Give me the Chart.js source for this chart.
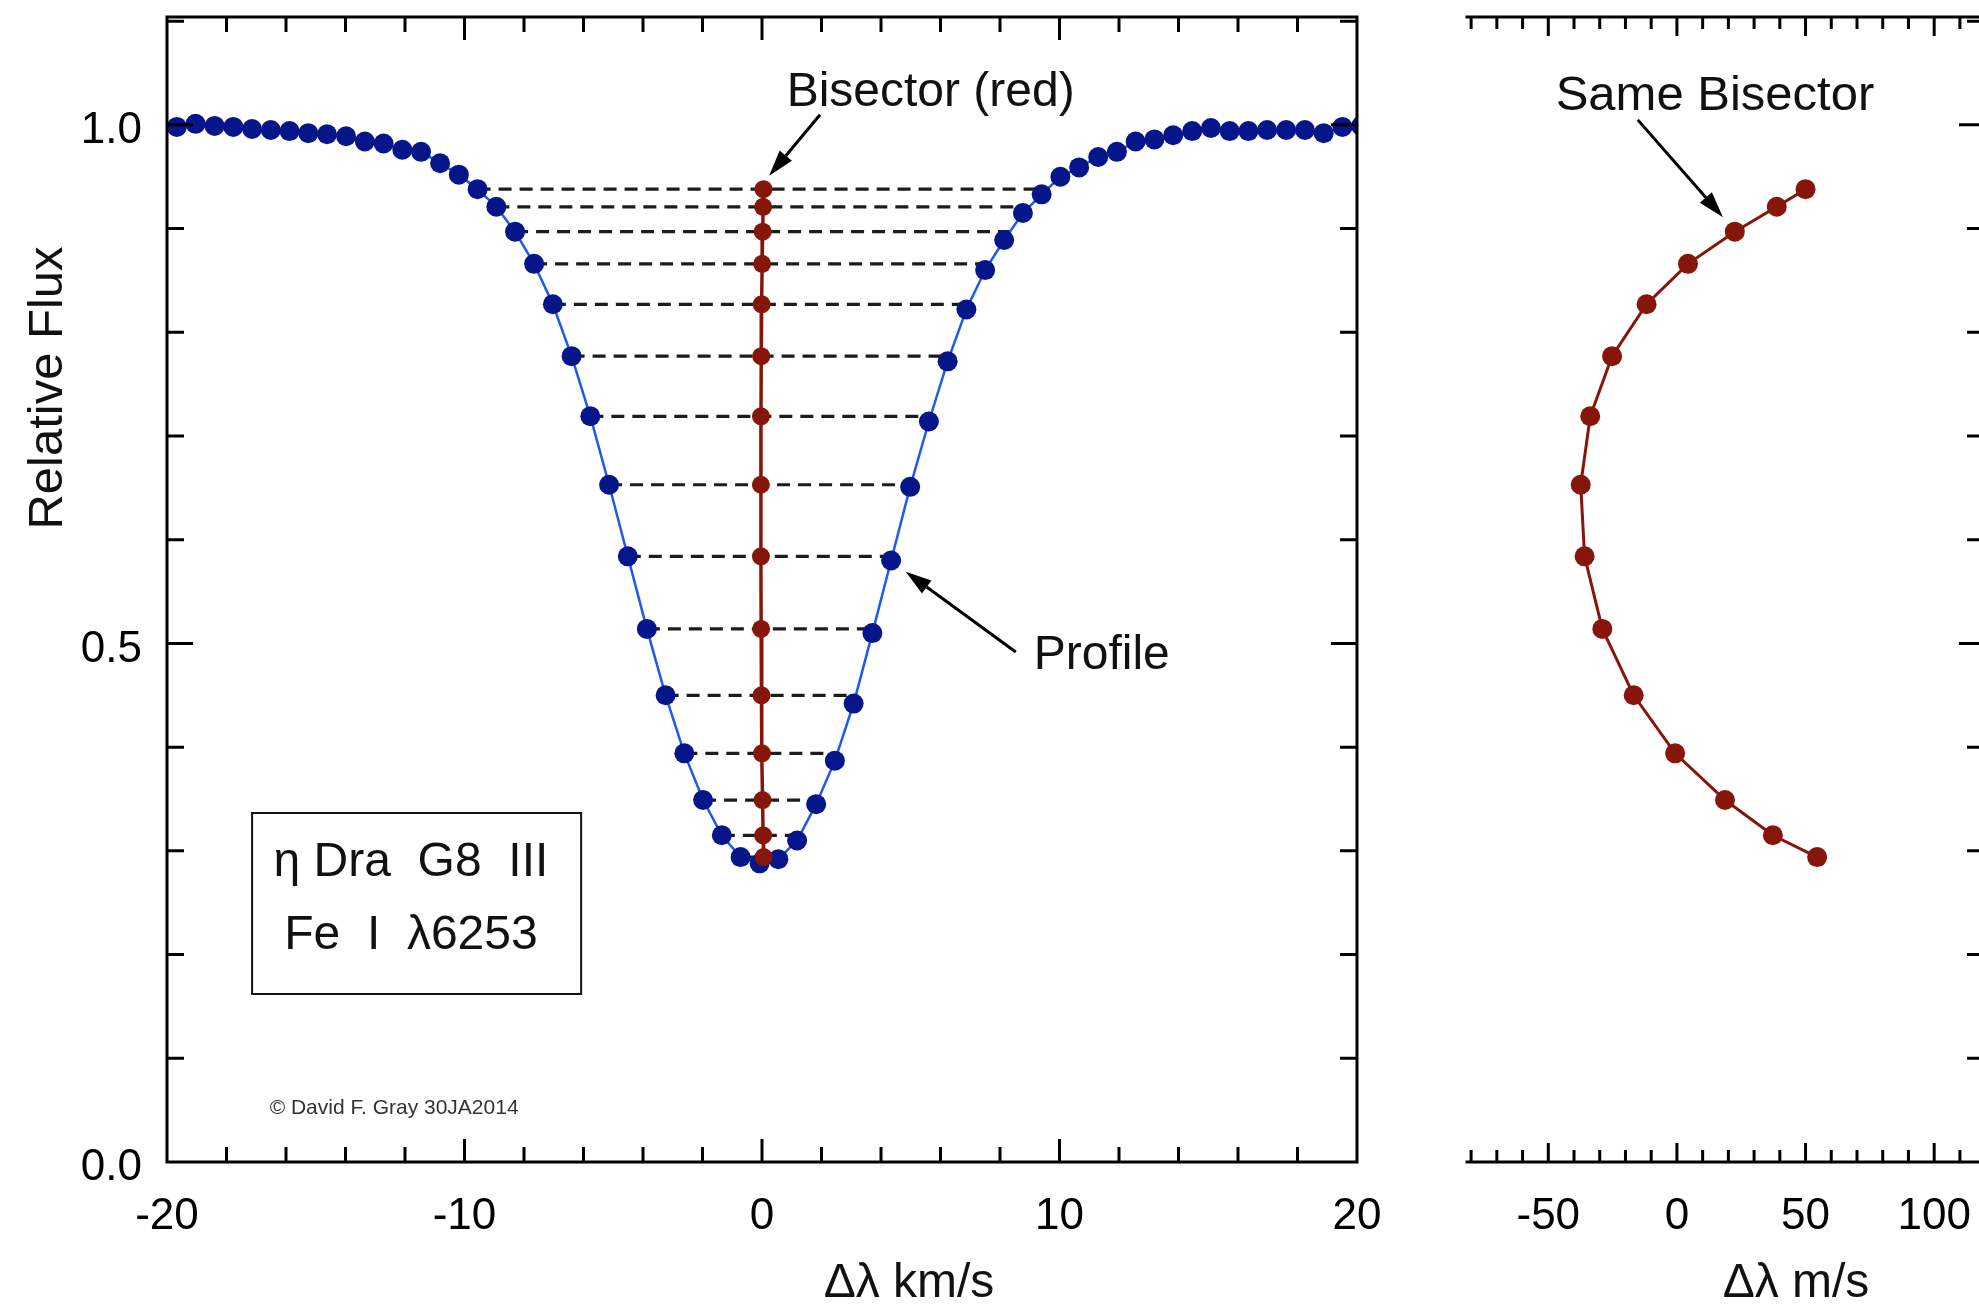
<!DOCTYPE html>
<html>
<head>
<meta charset="utf-8">
<script src="https://cdn.jsdelivr.net/npm/chart.js@4.4.1/dist/chart.umd.min.js"></script>
<style>
html,body{margin:0;padding:0;background:#fff;overflow:hidden;width:1979px;height:1312px;position:relative}
#w1{position:absolute;left:0;top:0;width:1430px;height:1312px}
#w2{position:absolute;left:1400px;top:0;width:600px;height:1312px}
canvas{display:block}
</style>
</head>
<body>
<div id="w1"><canvas id="c1" width="1430" height="1312"></canvas></div>
<div id="w2"><canvas id="c2" width="600" height="1312"></canvas></div>
<script>
// ---------- DATA ----------
// Line profile: Doppler velocity (km/s) and relative flux
const profileX = [-19.67, -19.04, -18.40, -17.77, -17.14, -16.51, -15.88, -15.25, -14.62, -13.98,
  -13.35, -12.72, -12.09, -11.46, -10.82, -10.19, -9.56, -8.93, -8.30, -7.66,
  -7.03, -6.40, -5.77, -5.14, -4.51, -3.87, -3.24, -2.61, -1.98, -1.35,
  -0.72, -0.08, 0.55, 1.18, 1.82, 2.45, 3.08, 3.71, 4.34, 4.98,
  5.61, 6.24, 6.87, 7.50, 8.14, 8.77, 9.40, 10.03, 10.66, 11.30,
  11.93, 12.56, 13.19, 13.82, 14.46, 15.09, 15.72, 16.35, 16.98, 17.62,
  18.25, 18.88, 19.51, 20.14];
const profileFlux = [0.998, 1.001, 0.999, 0.998, 0.996, 0.995, 0.994, 0.992, 0.991, 0.989,
  0.984, 0.982, 0.976, 0.974, 0.963, 0.952, 0.938, 0.921, 0.897, 0.866,
  0.827, 0.777, 0.719, 0.653, 0.584, 0.514, 0.450, 0.394, 0.349, 0.315,
  0.294, 0.288, 0.292, 0.310, 0.345, 0.387, 0.442, 0.510, 0.580, 0.651,
  0.714, 0.772, 0.822, 0.860, 0.889, 0.915, 0.933, 0.950, 0.959, 0.969,
  0.974, 0.984, 0.986, 0.990, 0.994, 0.997, 0.994, 0.994, 0.995, 0.995,
  0.995, 0.992, 0.998, 0.999];
// Bisector: flux levels and bisector velocity (m/s)
const bisectorFlux = [0.938, 0.921, 0.897, 0.866, 0.827, 0.777, 0.719, 0.653, 0.584, 0.514, 0.450, 0.394, 0.349, 0.315, 0.294];
const bisectorVel  = [50.0, 38.8, 22.5, 4.3, -11.8, -25.2, -33.7, -37.4, -35.9, -29.0, -16.8, -0.7, 18.7, 37.3, 54.5];
// Blue-wing profile point (km/s) at each bisector level (left end of dashed chord)
const levelLeftX = [-9.56, -8.93, -8.30, -7.66, -7.03, -6.40, -5.77, -5.14, -4.51, -3.87, -3.24, -2.61, -1.98, -1.35, -0.72];
// Tick labels
const xTicksKms = [-20, -10, 0, 10, 20];
const yTicksFlux = [0.0, 0.5, 1.0];
const xTicksMs = [-50, 0, 50, 100];

// ---------- STYLE ----------
const FONT = "'Liberation Sans', Arial, Helvetica, sans-serif";
const NAVY = 'rgb(6,22,138)';
const BLUE = 'rgb(30,90,235)';
const RED = 'rgb(135,22,10)';

function makeFrame(cfg) {
  return {
    id: 'frame',
    afterDatasetsDraw(chart) {
      const {ctx, chartArea: a, scales} = chart;
      const x = scales.x, y = scales.y;
      ctx.save();
      ctx.strokeStyle = '#000';
      ctx.lineWidth = 3;
      ctx.lineCap = 'square';
      ctx.beginPath();
      if (cfg.frame.includes('top')) { ctx.moveTo(a.left, a.top); ctx.lineTo(a.right, a.top); }
      if (cfg.frame.includes('bottom')) { ctx.moveTo(a.left, a.bottom); ctx.lineTo(a.right, a.bottom); }
      if (cfg.frame.includes('left')) { ctx.moveTo(a.left, a.top); ctx.lineTo(a.left, a.bottom); }
      if (cfg.frame.includes('right')) { ctx.moveTo(a.right, a.top); ctx.lineTo(a.right, a.bottom); }
      ctx.stroke();
      ctx.lineCap = 'butt';
      ctx.beginPath();
      const isMajor = (v, m) => Math.abs(v / m - Math.round(v / m)) < 1e-6;
      for (let k = Math.ceil(x.min / cfg.xStep - 1e-9); k * cfg.xStep <= x.max + 1e-9; k++) {
        const v = k * cfg.xStep;
        if (Math.abs(v - x.min) < 1e-9 || Math.abs(v - x.max) < 1e-9) continue;
        const px = x.getPixelForValue(v);
        const len = isMajor(v, cfg.xMajor) ? cfg.xLen[1] : cfg.xLen[0];
        if (cfg.xSides.includes('bottom')) { ctx.moveTo(px, a.bottom); ctx.lineTo(px, a.bottom - len); }
        if (cfg.xSides.includes('top')) { ctx.moveTo(px, a.top); ctx.lineTo(px, a.top + len); }
      }
      for (let k = Math.ceil(y.min / cfg.yStep - 1e-9); k * cfg.yStep <= y.max + 1e-9; k++) {
        const v = k * cfg.yStep;
        if (Math.abs(v - y.min) < 1e-9) continue;
        const py = y.getPixelForValue(v);
        const len = isMajor(v, cfg.yMajor) ? cfg.yLen[1] : cfg.yLen[0];
        if (cfg.ySides.includes('left')) { ctx.moveTo(a.left, py); ctx.lineTo(a.left + len, py); }
        if (cfg.ySides.includes('right')) { ctx.moveTo(a.right, py); ctx.lineTo(a.right - len, py); }
      }
      ctx.stroke();
      ctx.restore();
    }
  };
}

function makeAnnot(items) {
  return {
    id: 'annot',
    afterDraw(chart) {
      const {ctx, scales} = chart;
      const x = scales.x, y = scales.y;
      const P = (it, kx, ky) => [it[kx] !== undefined ? x.getPixelForValue(it[kx]) : it['p' + kx],
                                 it[ky] !== undefined ? y.getPixelForValue(it[ky]) : it['p' + ky]];
      for (const it of items) {
        ctx.save();
        if (it.type === 'text') {
          const [px, py] = P(it, 'x', 'y');
          ctx.font = it.font;
          ctx.fillStyle = it.color || '#111';
          ctx.textAlign = it.align || 'center';
          ctx.textBaseline = 'middle';
          ctx.translate(px, py);
          if (it.rot) ctx.rotate(it.rot);
          ctx.fillText(it.text, 0, 0);
        } else if (it.type === 'arrow') {
          const [x1, y1] = P(it, 'x1', 'y1');
          const [x2, y2] = P(it, 'x2', 'y2');
          const ang = Math.atan2(y2 - y1, x2 - x1);
          const hl = 26, hw = 8;
          const bx = x2 - hl * Math.cos(ang), by = y2 - hl * Math.sin(ang);
          ctx.strokeStyle = '#000'; ctx.fillStyle = '#000'; ctx.lineWidth = 3;
          ctx.beginPath(); ctx.moveTo(x1, y1); ctx.lineTo(bx, by); ctx.stroke();
          ctx.beginPath();
          ctx.moveTo(x2, y2);
          ctx.lineTo(bx + hw * Math.sin(ang), by - hw * Math.cos(ang));
          ctx.lineTo(bx - hw * Math.sin(ang), by + hw * Math.cos(ang));
          ctx.closePath(); ctx.fill();
        } else if (it.type === 'box') {
          const [x1, y1] = P(it, 'x1', 'y1');
          const [x2, y2] = P(it, 'x2', 'y2');
          ctx.strokeStyle = '#111'; ctx.lineWidth = 2;
          ctx.strokeRect(x1, y1, x2 - x1, y2 - y1);
        }
        ctx.restore();
      }
    }
  };
}

const tickFont = {family: FONT, size: 44};

// ---------- LEFT CHART ----------
const bisectorKms = bisectorVel.map(v => v / 1000);
const chordSets = bisectorFlux.map((f, i) => ({
  data: [{x: levelLeftX[i], y: f}, {x: 2 * bisectorKms[i] - levelLeftX[i], y: f}],
  showLine: true, borderColor: '#1c1c1c', borderWidth: 3.2, borderDash: [13, 8],
  pointRadius: 0, order: 3
}));

new Chart(document.getElementById('c1'), {
  type: 'scatter',
  data: {
    datasets: [
      {
        label: 'Bisector (red)',
        data: bisectorKms.map((v, i) => ({x: v, y: bisectorFlux[i]})),
        showLine: true, borderColor: RED, borderWidth: 3.5,
        pointRadius: 9, pointBackgroundColor: RED, pointBorderWidth: 0, order: 1
      },
      {
        label: 'Profile',
        data: profileX.map((v, i) => ({x: v, y: profileFlux[i]})),
        showLine: true, borderColor: BLUE, borderWidth: 2.5,
        pointRadius: 10, pointBackgroundColor: NAVY, pointBorderWidth: 0, order: 2, clip: 0
      },
      ...chordSets
    ]
  },
  options: {
    responsive: false, animation: false, events: [],
    layout: {padding: {left: 0, top: 17, right: 73, bottom: 0}},
    plugins: {legend: {display: false}, tooltip: {enabled: false}},
    scales: {
      x: {
        type: 'linear', min: -20, max: 20,
        afterBuildTicks: s => { s.ticks = xTicksKms.map(v => ({value: v})); },
        afterFit: s => { s.height = 150; s.paddingLeft = 0; s.paddingRight = 0; },
        grid: {display: false, drawTicks: false}, border: {display: false},
        ticks: {autoSkip: false, maxRotation: 0, padding: 28, font: tickFont, color: '#000',
                callback: v => String(v)}
      },
      y: {
        type: 'linear', min: 0, max: 1.104,
        afterBuildTicks: s => { s.ticks = yTicksFlux.map(v => ({value: v})); },
        afterFit: s => { s.width = 167; s.paddingTop = 0; s.paddingBottom = 0; },
        grid: {display: false, drawTicks: false}, border: {display: false},
        ticks: {autoSkip: false, padding: 25, labelOffset: 6, font: tickFont, color: '#000',
                callback: v => v.toFixed(1)}
      }
    }
  },
  plugins: [
    makeFrame({frame: ['top', 'bottom', 'left', 'right'], xStep: 2, xMajor: 10, xLen: [15, 23], xSides: ['top', 'bottom'],
               yStep: 0.1, yMajor: 0.5, yLen: [17, 26], ySides: ['left', 'right']}),
    makeAnnot([
      {type: 'text', x: 5.67, y: 1.031, text: 'Bisector (red)', font: '48px ' + FONT},
      {type: 'arrow', x1: 1.95, y1: 1.0097, x2: 0.24, y2: 0.951},
      {type: 'text', x: 11.42, y: 0.488, text: 'Profile', font: '48px ' + FONT},
      {type: 'arrow', x1: 8.53, y1: 0.4918, x2: 4.83, y2: 0.5692},
      {type: 'box', x1: -17.14, y1: 0.3365, x2: -6.08, y2: 0.162},
      {type: 'text', x: -11.8, y: 0.2883, text: 'η Dra  G8  III', font: '48px ' + FONT},
      {type: 'text', x: -11.8, y: 0.2179, text: 'Fe  I  λ6253', font: '48px ' + FONT},
      {type: 'text', x: -16.55, y: 0.0521, text: '© David F. Gray 30JA2014', font: '21px ' + FONT, align: 'left', color: '#333'},
      {type: 'text', px: 48, py: 388, text: 'Relative Flux', font: '49px ' + FONT, rot: -Math.PI / 2},
      {type: 'text', px: 909, py: 1284, text: 'Δλ km/s', font: '48px ' + FONT}
    ])
  ]
});

// ---------- RIGHT CHART ----------
new Chart(document.getElementById('c2'), {
  type: 'scatter',
  data: {
    datasets: [{
      label: 'Same Bisector',
      data: bisectorVel.map((v, i) => ({x: v, y: bisectorFlux[i]})),
      showLine: true, borderColor: RED, borderWidth: 3,
      pointRadius: 10, pointBackgroundColor: RED, pointBorderWidth: 0
    }]
  },
  options: {
    responsive: false, animation: false, events: [],
    layout: {padding: {left: 67, top: 17, right: 19, bottom: 0}},
    plugins: {legend: {display: false}, tooltip: {enabled: false}},
    scales: {
      x: {
        type: 'linear', min: -81.6, max: 118.2,
        afterBuildTicks: s => { s.ticks = xTicksMs.map(v => ({value: v})); },
        afterFit: s => { s.height = 150; s.paddingLeft = 0; s.paddingRight = 0; },
        grid: {display: false, drawTicks: false}, border: {display: false},
        ticks: {autoSkip: false, maxRotation: 0, padding: 28, font: tickFont, color: '#000',
                callback: v => String(v)}
      },
      y: {type: 'linear', min: 0, max: 1.104, display: false}
    }
  },
  plugins: [
    makeFrame({frame: ['top', 'bottom', 'right'], xStep: 10, xMajor: 50, xLen: [12, 19], xSides: ['top', 'bottom'],
               yStep: 0.1, yMajor: 0.5, yLen: [14, 22], ySides: ['right']}),
    makeAnnot([
      {type: 'text', x: 14.8, y: 1.027, text: 'Same Bisector', font: '49px ' + FONT},
      {type: 'arrow', x1: -15.2, y1: 1.0048, x2: 17.9, y2: 0.911},
      {type: 'text', px: 396, py: 1284, text: 'Δλ m/s', font: '48px ' + FONT}
    ])
  ]
});
</script>
</body>
</html>
